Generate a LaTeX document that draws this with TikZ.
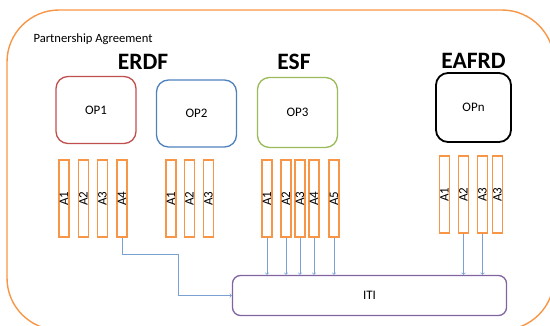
\documentclass[tikz,border=0pt]{standalone}
\usepackage{fontspec}
\setmainfont{Carlito}
\usepackage{xcolor}

\definecolor{paorange}{HTML}{F79646}
\definecolor{opred}{HTML}{C0504D}
\definecolor{opblue}{HTML}{4F81BD}
\definecolor{opgreen}{HTML}{9BBB59}
\definecolor{itipurple}{HTML}{8064A2}
\definecolor{linkblue}{HTML}{7BA0D4}

\tikzset{
    op/.style={draw, rounded corners=12pt, line width=1.3pt, minimum width=80pt, minimum height=67pt, font=\fontsize{13}{15}\selectfont},
    bar/.style={draw=paorange, line width=1.3pt, minimum width=10pt, minimum height=77pt, inner sep=0pt, font=\fontsize{13}{15}\selectfont},
    fund/.style={font=\bfseries\fontsize{23.5}{26}\selectfont},
    link/.style={->, draw=linkblue, line width=0.7pt}
}

\begin{document}
\begin{tikzpicture}[x=1pt, y=-1pt]
        \useasboundingbox (0, 0) rectangle (550, 325);
        \draw[paorange, line width=1.4pt, rounded corners=52pt] (7, 10) rectangle (554, 330);
        \node[anchor=base west, font=\fontsize{12.6}{15}\selectfont] (pa) at (30, 42.5) {Partnership Agreement};

        \node[fund] (erdf) at (143, 61.5) {ERDF};
        \node[fund] (esf) at (294, 61.5) {ESF};
        \node[fund] (eafrd) at (473.5, 61) {EAFRD};

        \node[op, draw=opred] (op1) at (96, 110) {OP1};
        \node[op, draw=opblue] (op2) at (196.5, 113.5) {OP2};
        \node[op, draw=opgreen, minimum height=70pt] (op3) at (297.5, 112.5) {OP3};
        \node[op, draw=black, line width=1.8pt, minimum width=75pt, minimum height=69pt] (opn) at (473.5, 107.5) {OPn};

        \node[bar] (a11) at (64, 198.5) {\rotatebox{90}{A1}};
        \node[bar] (a12) at (83.5, 198.5) {\rotatebox{90}{A2}};
        \node[bar] (a13) at (102.5, 198.5) {\rotatebox{90}{A3}};
        \node[bar] (a14) at (122, 198.5) {\rotatebox{90}{A4}};

        \node[bar] (a21) at (171, 198.5) {\rotatebox{90}{A1}};
        \node[bar] (a22) at (189.5, 198.5) {\rotatebox{90}{A2}};
        \node[bar] (a23) at (208.5, 198.5) {\rotatebox{90}{A3}};

        \node[bar] (a31) at (267, 198.5) {\rotatebox{90}{A1}};
        \node[bar] (a32) at (286, 198.5) {\rotatebox{90}{A2}};
        \node[bar] (a33) at (300, 198.5) {\rotatebox{90}{A3}};
        \node[bar] (a34) at (314, 198.5) {\rotatebox{90}{A4}};
        \node[bar] (a35) at (334, 198.5) {\rotatebox{90}{A5}};

        \node[bar] (a41) at (444.5, 194.5) {\rotatebox{90}{A1}};
        \node[bar] (a42) at (463.5, 194.5) {\rotatebox{90}{A2}};
        \node[bar] (a43) at (482.5, 194.5) {\rotatebox{90}{A3}};
        \node[bar] (a44) at (497.5, 194.5) {\rotatebox{90}{A3}};

        \node[draw=itipurple, line width=1.3pt, rounded corners=8pt, minimum width=274pt, minimum height=40pt, font=\fontsize{13}{15}\selectfont] (iti) at (369.5, 295.5) {ITI};

        \coordinate (elbow) at (178, 254);
        \draw[link] (a14.south) |- (elbow) |- (iti.west);
        \foreach \b in {a31, a32, a33, a34, a35, a42, a43}
            \draw[link] (\b.south) -- (\b.south |- iti.north);
    \end{tikzpicture}
\end{document}
